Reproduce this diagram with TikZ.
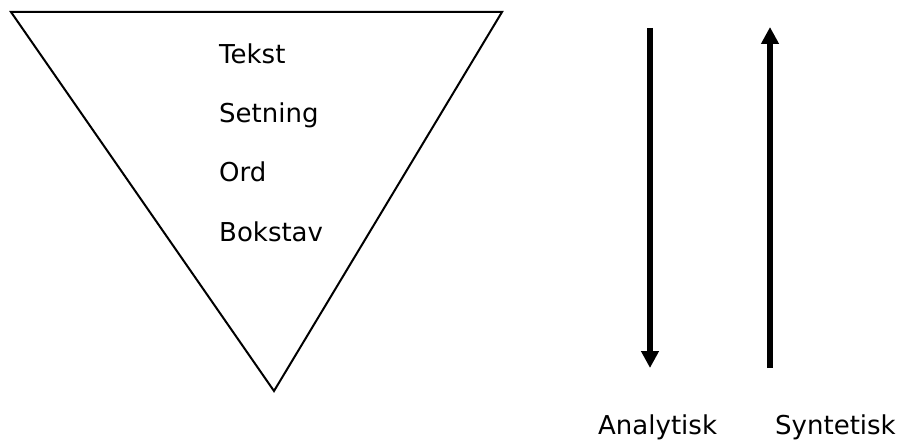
\documentclass[tikz,border=0pt]{standalone}
\usepackage{fontspec}
\setmainfont{DejaVu Sans}
\usetikzlibrary{arrows.meta}

\begin{document}
\begin{tikzpicture}[
  x=1pt, y=-1pt,
  word/.style={anchor=base west, inner sep=0pt, font=\fontsize{26}{30}\selectfont},
  funnel/.style={line width=2pt, draw=black, line join=miter},
  flow/.style={line width=6pt, draw=black, -{Triangle[width=17pt,length=17pt]}}
]
  \useasboundingbox (0,0) rectangle (902,441);

  % --- Trekant ---
  \coordinate (tl) at (11,12);
  \coordinate (tr) at (502,12);
  \coordinate (tb) at (274,391);

  \draw[funnel] (tl) -- (tr) -- (tb) -- cycle;

  \node[word] (tekst)   at (219,64)  {Tekst};
  \node[word] (setning) at (219,123) {Setning};
  \node[word] (ord)     at (219,182) {Ord};
  \node[word] (bokstav) at (219,241) {Bokstav};

  % --- Piler ---
  \coordinate (a1) at (650,28);
  \coordinate (a2) at (650,368);
  \coordinate (s1) at (770,368);
  \coordinate (s2) at (770,27);

  \draw[flow] (a1) -- (a2);
  \draw[flow] (s1) -- (s2);

  \node[word] (analytisk) at (598,434) {Analytisk};
  \node[word] (syntetisk) at (775,434) {Syntetisk};

\end{tikzpicture}
\end{document}
